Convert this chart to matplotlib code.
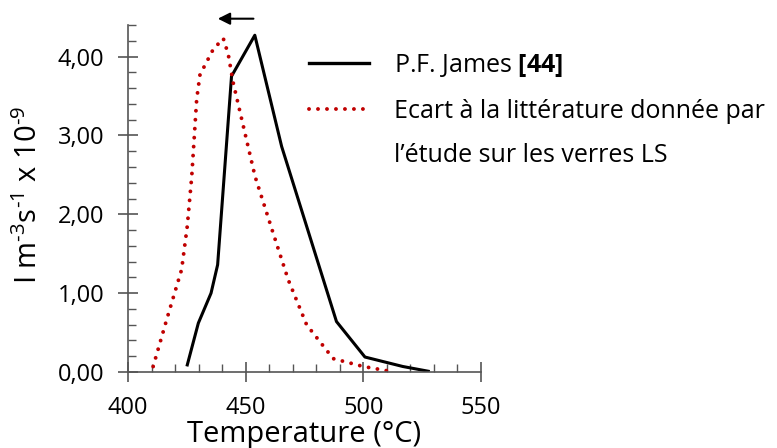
import numpy as np
from matplotlib import pyplot as plt
from matplotlib.lines import Line2D

# P.F. James [44]
james_T = [425.2, 429.9, 435.3, 438.1, 444.0, 453.9, 465.3, 488.6, 500.7, 516.8, 527.6]
james_I = [0.09, 0.62, 1.00, 1.36, 3.75, 4.27, 2.86, 0.64, 0.19, 0.07, 0.01]

# curve shifted (etude verres LS)
ls_T = [410.7, 416.4, 422.8, 425.2, 427.1, 429.2, 430.6, 436.2, 440.5, 442.6, 444.7,
        449.0, 454.0, 461.7, 468.1, 475.9, 487.2, 500.0, 511.3]
ls_I = [0.07, 0.66, 1.30, 1.85, 2.48, 3.46, 3.77, 4.09, 4.23, 4.03, 3.67,
        3.12, 2.48, 1.76, 1.17, 0.60, 0.17, 0.07, 0.01]

xticks = [400, 450, 500, 550]
yticks = [0, 1, 2, 3, 4]
ytick_labels = ['0,00', '1,00', '2,00', '3,00', '4,00']

plt.rcParams['font.family'] = ['Open Sans', 'DejaVu Sans']
plt.rcParams['mathtext.fontset'] = 'custom'
plt.rcParams['mathtext.rm'] = 'Open Sans'
plt.rcParams['mathtext.it'] = 'Open Sans'
plt.rcParams['mathtext.bf'] = 'Open Sans:bold'

red = '#c00000'
dots = dict(ls=(0, (0.01, 2.3)), dash_capstyle='round', lw=2.8)

fig = plt.figure(figsize=(7.77, 4.48), dpi=100)
ax = fig.add_axes([0.1647, 0.1696, 0.4543, 0.7746])

ax.plot(james_T, james_I, color='black', lw=2.2)
ax.plot(ls_T, ls_I, color=red, **dots)

ax.set_xlim(400, 550)
ax.set_ylim(0, 4.4)
ax.set_xticks(xticks)
ax.set_xticks(np.arange(400, 551, 10), minor=True)
ax.set_yticks(yticks)
ax.set_yticklabels(ytick_labels)
ax.set_yticks(np.arange(0, 4.41, 0.2), minor=True)

for s in ['top', 'right']:
    ax.spines[s].set_visible(False)
for s in ['left', 'bottom']:
    ax.spines[s].set_color('#555555')
    ax.spines[s].set_linewidth(1.2)

ax.tick_params(which='major', direction='inout', length=14, width=1.2, color='#555555',
               labelsize=17)
ax.tick_params(which='minor', direction='in', length=6, width=1, color='#555555')
ax.tick_params(axis='x', pad=10)
ax.tick_params(axis='y', pad=10)

ax.set_xlabel('Temperature (°C)', fontsize=21, labelpad=0)
ax.set_ylabel(r'I m$^{\text{-3}}$s$^{\text{-1}}$ x 10$^{\text{-9}}$', fontsize=21)
ax.yaxis.set_label_coords(-0.238, 0.51)

# arrow showing the shift
ax.annotate('', xy=(437.0, 4.48), xytext=(454.5, 4.48),
            arrowprops=dict(arrowstyle='-|>', color='black', lw=1.5, mutation_scale=18),
            annotation_clip=False)

handles = [Line2D([], [], color='black', lw=2.4),
           Line2D([], [], color=red, **dots),
           Line2D([], [], color='none')]
labels = [r'P.F. James $\mathbf{[44]}$',
          'Ecart à la littérature donnée par',
          'l’étude sur les verres LS']
leg = fig.legend(handles, labels, loc='upper left', bbox_to_anchor=(0.385, 0.904),
                 frameon=False, fontsize=18, handlelength=2.4, handletextpad=1.0,
                 labelspacing=0.78, borderaxespad=0)

fig.savefig('out.png', dpi=100)
